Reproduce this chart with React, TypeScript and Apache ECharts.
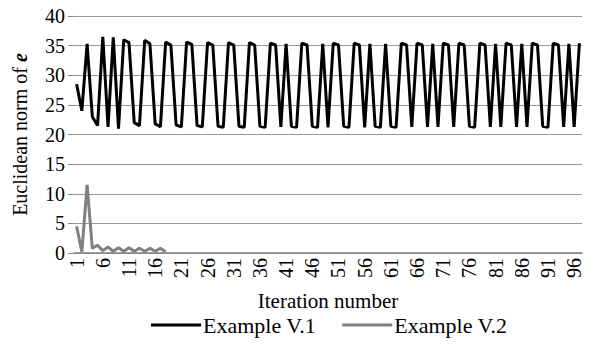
import React, { useEffect, useRef } from "react";
import * as echarts from "echarts";

const categories: string[] = Array.from({ length: 97 }, (_, i) => String(i + 1));

const exampleV1: number[] = [
  28.5, 24.0, 35.3, 23.0, 21.5, 36.5, 21.3, 36.4, 21.0, 36.0,
  35.5, 22.0, 21.5, 35.9, 35.3, 21.8, 21.3, 35.6, 35.1, 21.6,
  21.3, 35.6, 35.2, 21.5, 21.3, 35.5, 35.1, 21.4, 21.2, 35.5,
  35.1, 21.4, 21.2, 35.5, 35.1, 21.4, 21.2, 35.4, 35.1, 21.3,
  35.3, 21.4, 21.2, 35.4, 35.1, 21.4, 21.2, 35.3, 21.2, 35.4,
  35.1, 21.4, 21.2, 35.4, 35.1, 21.2, 35.3, 21.4, 21.2, 35.3,
  21.4, 21.2, 35.4, 35.1, 21.3, 35.4, 35.1, 21.3, 35.3, 21.3,
  35.4, 35.1, 21.3, 35.4, 35.1, 21.4, 21.2, 35.4, 35.1, 21.3,
  35.3, 21.3, 35.4, 35.1, 21.3, 35.3, 21.3, 35.4, 35.1, 21.4,
  21.2, 35.4, 35.1, 21.3, 35.3, 21.3, 35.4,
];

const exampleV2: number[] = [
  4.5, 0.2, 11.5, 0.8, 1.3, 0.4, 1.0, 0.3, 0.9, 0.3,
  0.9, 0.3, 0.8, 0.3, 0.8, 0.3, 0.8, 0.2,
];

const yTicks = { min: 0, max: 40, interval: 5 };

const FONT = "'Liberation Serif', 'Times New Roman', serif";

export default function App() {
  const ref = useRef<HTMLDivElement>(null);
  useEffect(() => {
    if (!ref.current) return;
    const chart = echarts.init(ref.current, undefined, { renderer: "svg" });
    chart.setOption({
      animation: false,
      backgroundColor: "#ffffff",
      textStyle: { fontFamily: FONT },
      grid: { left: 74, right: 12, top: 16, bottom: 93 },
      legend: {
        left: 146,
        top: 309,
        icon: "rect",
        itemWidth: 50,
        itemHeight: 3,
        itemGap: 26,
        textStyle: { fontFamily: FONT, fontSize: 22, color: "#000", padding: [0, 0, 0, -3] },
        data: ["Example V.1", "Example V.2"],
      },
      xAxis: {
        type: "category",
        data: categories,
        boundaryGap: true,
        name: "Iteration number",
        nameLocation: "middle",
        nameGap: 37,
        nameTextStyle: { fontFamily: FONT, fontSize: 21, color: "#000" },
        axisLine: { show: true, lineStyle: { color: "#808080", width: 1.5 } },
        axisTick: { show: false },
        axisLabel: {
          interval: 4,
          rotate: 90,
          margin: 5,
          fontFamily: FONT,
          fontSize: 20,
          color: "#000",
        },
        splitLine: { show: false },
      },
      yAxis: {
        type: "value",
        min: yTicks.min,
        max: yTicks.max,
        interval: yTicks.interval,
        name: "{a|Euclidean norm of }{b|e}",
        nameLocation: "middle",
        nameGap: 44,
        nameTextStyle: {
          fontFamily: FONT,
          fontSize: 20,
          color: "#000",
          rich: {
            a: { fontFamily: FONT, fontSize: 20, color: "#000" },
            b: { fontFamily: FONT, fontSize: 20, color: "#000", fontWeight: "bold", fontStyle: "italic" },
          },
        },
        axisLine: { show: false },
        axisTick: { show: true, length: 6, lineStyle: { color: "#888" } },
        axisLabel: { margin: 9, fontFamily: FONT, fontSize: 20, color: "#000" },
        splitLine: { show: true, lineStyle: { color: "#999", width: 1 } },
      },
      series: [
        {
          name: "Example V.1",
          type: "line",
          data: exampleV1,
          symbol: "none",
          lineStyle: { color: "#000", width: 3 },
          itemStyle: { color: "#000" },
        },
        {
          name: "Example V.2",
          type: "line",
          data: exampleV2,
          symbol: "none",
          lineStyle: { color: "#808080", width: 3 },
          itemStyle: { color: "#808080" },
        },
      ],
    });
    return () => chart.dispose();
  }, []);
  return (
    <div
      ref={ref}
      style={{ position: "fixed", left: 0, top: 0, width: 594, height: 346 }}
    />
  );
}
